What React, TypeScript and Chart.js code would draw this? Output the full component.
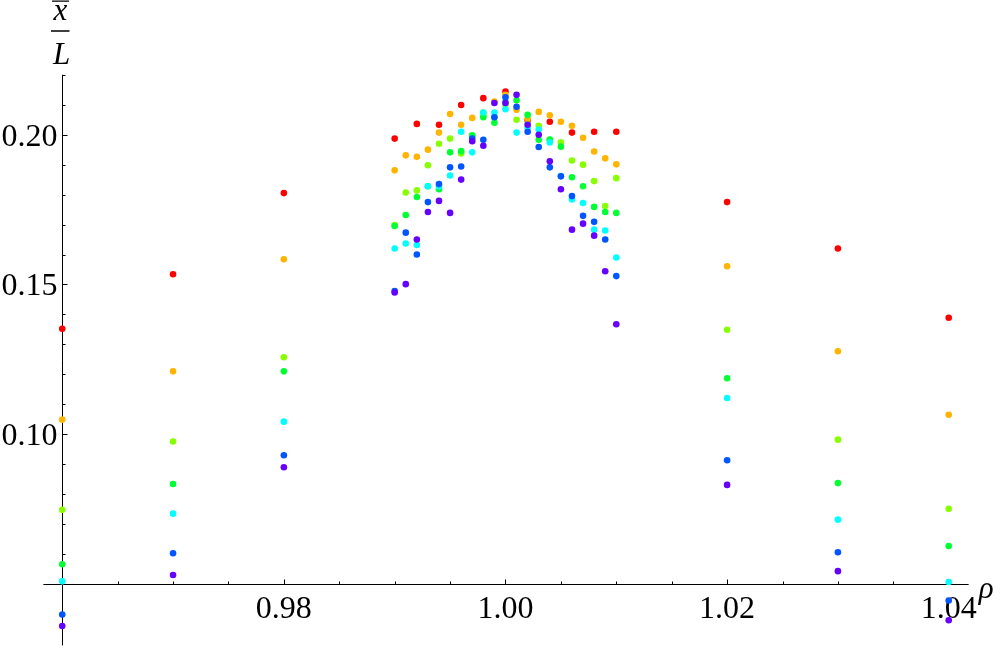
import React, { useEffect, useRef } from "react";
import { Chart, registerables } from "chart.js";

Chart.register(...registerables);

// rho values (x axis)
const rho = [
  0.96, 0.97, 0.98,
  0.990, 0.991, 0.992, 0.993, 0.994, 0.995, 0.996, 0.997, 0.998, 0.999,
  1.000, 1.001, 1.002, 1.003, 1.004, 1.005, 1.006, 1.007, 1.008, 1.009, 1.010,
  1.02, 1.03, 1.04,
];

// series values (x̄ / L)
const seriesRed = [0.1352, 0.1534, 0.1805, 0.1987, null, 0.2036, null, 0.2033, null, 0.2099, null, 0.2122, null, 0.2144, null, 0.2048, null, 0.2043, null, 0.2007, null, 0.2010, null, 0.2010, 0.1775, 0.1620, 0.1389];
const seriesOrange = [0.1049, 0.1210, 0.1584, 0.1881, 0.1931, 0.1926, 0.1950, 0.2007, 0.2069, 0.2033, 0.2056, 0.2074, 0.2111, 0.2133, 0.2083, 0.2053, 0.2076, 0.2065, 0.2043, 0.2030, 0.1990, 0.1944, 0.1921, 0.1901, 0.1561, 0.1277, 0.1065];
const seriesYellowGreen = [0.0748, 0.0976, 0.1257, 0.1698, 0.1807, 0.1814, 0.1898, 0.1970, 0.1987, 0.1937, 0.1996, 0.2066, 0.2058, 0.2100, 0.2050, 0.2035, 0.2030, 0.1982, 0.1975, 0.1914, 0.1900, 0.1845, 0.1762, 0.1855, 0.1349, 0.0982, 0.0751];
const seriesGreen = [0.0566, 0.0834, 0.1210, 0.1695, 0.1732, 0.1792, 0.1828, 0.1818, 0.1941, 0.1945, 0.1998, 0.2058, 0.2040, 0.2110, 0.2115, 0.2066, 0.1983, 0.1984, 0.1960, 0.1858, 0.1828, 0.1759, 0.1742, 0.1739, 0.1187, 0.0837, 0.0627];
const seriesCyan = [0.0509, 0.0735, 0.1042, 0.1620, 0.1637, 0.1632, 0.1828, 0.1827, 0.1864, 0.2010, 0.1941, 0.2074, 0.2074, 0.2085, 0.2007, 0.2023, 0.2017, 0.1974, 0.1862, 0.1784, 0.1772, 0.1683, 0.1680, 0.1590, 0.1121, 0.0715, 0.0507];
const seriesBlue = [0.0398, 0.0603, 0.0930, 0.1478, 0.1673, 0.1600, 0.1775, 0.1835, 0.1891, 0.1894, 0.1987, 0.1983, 0.2058, 0.2125, 0.2093, 0.2010, 0.1959, 0.1891, 0.1861, 0.1795, 0.1729, 0.1709, 0.1650, 0.1528, 0.0913, 0.0606, 0.0445];
const seriesPurple = [0.0360, 0.0530, 0.0890, 0.1473, 0.1501, 0.1650, 0.1742, 0.1779, 0.1739, 0.1850, 0.1978, 0.1963, 0.2106, 0.2106, 0.2133, 0.2033, 0.2000, 0.1911, 0.1818, 0.1683, 0.1703, 0.1663, 0.1544, 0.1367, 0.0831, 0.0543, 0.0379];

const seriesList = [seriesRed, seriesOrange, seriesYellowGreen, seriesGreen, seriesCyan, seriesBlue, seriesPurple];
const seriesColors = ["#ff0000", "#ffb400", "#88ff00", "#00ff33", "#00ffff", "#0055ff", "#6600ff"];

// ticks
const xMajorTicks = [0.98, 1.0, 1.02, 1.04];
const xMajorLabels = ["0.98", "1.00", "1.02", "1.04"];
const xMinorTicks = [0.965, 0.97, 0.975, 0.985, 0.99, 0.995, 1.005, 1.01, 1.015, 1.025, 1.03, 1.035];
const yMajorTicks = [0.1, 0.15, 0.2];
const yMajorLabels = ["0.10", "0.15", "0.20"];
const yMinorTicks = [0.06, 0.07, 0.08, 0.09, 0.11, 0.12, 0.13, 0.14, 0.16, 0.17, 0.18, 0.19, 0.21, 0.22];

// axis geometry (values)
const xOrigin = 0.96;
const yOrigin = 0.05;
const xAxisFrom = 0.9583;
const xAxisTo = 1.0418;
const yAxisTop = 0.22;
const yAxisBottom = 0.0295;

// visible plot range
const xRange = [0.95468, 1.04433];
const yRange = [0.02975, 0.24386];

const FONT = "'Liberation Serif', 'Times New Roman', serif";

const axesPlugin = {
  id: "mmaAxes",
  beforeDatasetsDraw(chart: any) {
    const ctx = chart.ctx;
    const xs = chart.scales.x;
    const ys = chart.scales.y;
    const ax = Math.round(xs.getPixelForValue(xOrigin)) + 0.5;
    const ay = Math.round(ys.getPixelForValue(yOrigin)) + 0.5;
    ctx.save();
    ctx.strokeStyle = "#000";
    ctx.lineWidth = 1;
    ctx.beginPath();
    ctx.moveTo(xs.getPixelForValue(xAxisFrom), ay);
    ctx.lineTo(xs.getPixelForValue(xAxisTo), ay);
    ctx.moveTo(ax, ys.getPixelForValue(yAxisTop));
    ctx.lineTo(ax, ys.getPixelForValue(yAxisBottom));
    xMajorTicks.forEach((v) => {
      const px = Math.round(xs.getPixelForValue(v)) + 0.5;
      ctx.moveTo(px, ay);
      ctx.lineTo(px, ay - 5);
    });
    xMinorTicks.forEach((v) => {
      const px = Math.round(xs.getPixelForValue(v)) + 0.5;
      ctx.moveTo(px, ay);
      ctx.lineTo(px, ay - 3);
    });
    yMajorTicks.forEach((v) => {
      const py = Math.round(ys.getPixelForValue(v)) + 0.5;
      ctx.moveTo(ax, py);
      ctx.lineTo(ax + 5, py);
    });
    yMinorTicks.forEach((v) => {
      const py = Math.round(ys.getPixelForValue(v)) + 0.5;
      ctx.moveTo(ax, py);
      ctx.lineTo(ax + 3, py);
    });
    ctx.stroke();

    ctx.fillStyle = "#000";
    ctx.font = `32px ${FONT}`;
    ctx.textBaseline = "alphabetic";
    ctx.textAlign = "center";
    xMajorTicks.forEach((v, i) => {
      ctx.fillText(xMajorLabels[i], xs.getPixelForValue(v), ay + 33);
    });
    ctx.textAlign = "right";
    yMajorTicks.forEach((v, i) => {
      ctx.fillText(yMajorLabels[i], ax - 5, ys.getPixelForValue(v) + 11);
    });

    ctx.font = `italic 31px ${FONT}`;
    const cx = ax - 2;
    ctx.textAlign = "center";
    ctx.fillText("x", cx, 20);
    ctx.fillText("L", cx + 1, 64);
    ctx.lineWidth = 1.3;
    ctx.beginPath();
    ctx.moveTo(cx - 8.5, 1.2);
    ctx.lineTo(cx + 8.5, 1.2);
    ctx.moveTo(cx - 9.5, 31);
    ctx.lineTo(cx + 9, 31);
    ctx.stroke();
    ctx.textAlign = "left";
    ctx.fillText("ρ", xs.getPixelForValue(xAxisTo) + 10, ay + 13);
    ctx.restore();
  },
};

export default function App() {
  const canvasRef = useRef<HTMLCanvasElement | null>(null);

  useEffect(() => {
    if (!canvasRef.current) return;
    const datasets = seriesList.map((vals, i) => ({
      label: `series ${i + 1}`,
      data: rho
        .map((x, j) => ({ x, y: vals[j] }))
        .filter((p) => p.y !== null),
      backgroundColor: seriesColors[i],
      borderWidth: 0,
      pointRadius: 3.3,
      pointHoverRadius: 3.3,
      order: seriesList.length - 1 - i,
      clip: false as any,
    }));
    const chart = new Chart(canvasRef.current, {
      type: "scatter",
      data: { datasets },
      options: {
        animation: false,
        responsive: false,
        events: [],
        layout: { padding: 0 },
        plugins: { legend: { display: false }, tooltip: { enabled: false } },
        scales: {
          x: { type: "linear", min: xRange[0], max: xRange[1], display: false },
          y: { type: "linear", min: yRange[0], max: yRange[1], display: false },
        },
      },
      plugins: [axesPlugin],
    });
    return () => chart.destroy();
  }, []);

  return (
    <div style={{ position: "absolute", left: 0, top: 0, width: 1000, height: 648, background: "#fff" }}>
      <canvas ref={canvasRef} width={1000} height={648} style={{ display: "block", width: 1000, height: 648 }} />
    </div>
  );
}
